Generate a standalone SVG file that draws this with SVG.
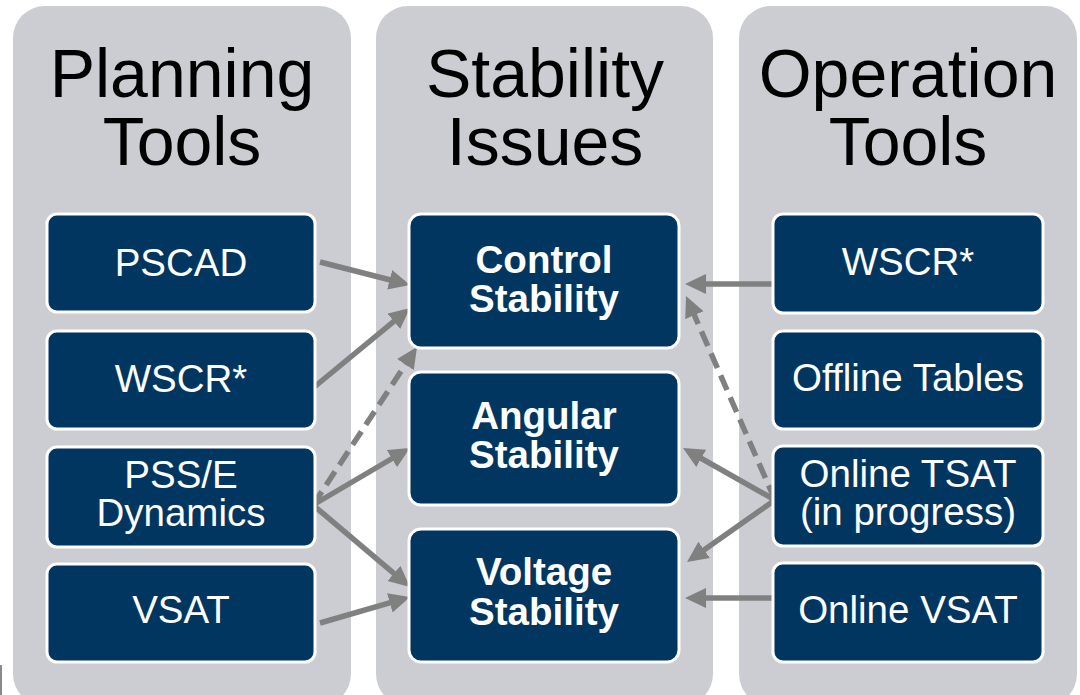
<svg xmlns="http://www.w3.org/2000/svg" width="1080" height="695" viewBox="0 0 1080 695">
<style>
.panel{fill:#CBCDD2}
.box{fill:#003660;stroke:#FFFFFF;stroke-width:3}
.title{font-family:"Liberation Sans",Arial,sans-serif;font-size:68px;fill:#000000;text-anchor:middle}
.t{font-family:"Liberation Sans",Arial,sans-serif;font-size:38.5px;fill:#FFFFFF;text-anchor:middle}
.tb{font-family:"Liberation Sans",Arial,sans-serif;font-size:38.5px;font-weight:bold;fill:#FFFFFF;text-anchor:middle}
.c{stroke:#808080;stroke-width:5.5;fill:none;marker-end:url(#ah)}
.d{stroke-dasharray:16 8}
</style>
<defs>
<marker id="ah" markerUnits="userSpaceOnUse" markerWidth="24" markerHeight="22" refX="15" refY="10" orient="auto">
<path d="M0,0 L21,10 L0,20 z" fill="#808080"/>
</marker>
</defs>
<rect x="0" y="0" width="1080" height="695" fill="#FFFFFF"/>
<rect x="0" y="665" width="2" height="30" fill="#8A8A8A"/>
<g id="panel-planning">
<rect class="panel" x="13" y="6" width="338" height="700" rx="32"/>
<text class="title" x="182" y="97">Planning</text>
<text class="title" x="182" y="165">Tools</text>
</g>
<g id="panel-stability">
<rect class="panel" x="376" y="6" width="337" height="700" rx="32"/>
<text class="title" x="545" y="97">Stability</text>
<text class="title" x="545" y="165">Issues</text>
</g>
<g id="panel-operation">
<rect class="panel" x="739" y="6" width="338" height="700" rx="32"/>
<text class="title" x="908" y="97">Operation</text>
<text class="title" x="908" y="165">Tools</text>
</g>
<g id="connectors">
<line class="c" x1="320" y1="262" x2="404.2" y2="283.5"/>
<line class="c" x1="313" y1="388" x2="405.4" y2="311.8"/>
<line class="c d" x1="313" y1="505" x2="413.7" y2="352"/>
<line class="c" x1="313" y1="505" x2="404.8" y2="451"/>
<line class="c" x1="313" y1="505" x2="405.4" y2="583.1"/>
<line class="c" x1="320" y1="623" x2="404.2" y2="598.7"/>
<line class="c" x1="777" y1="284" x2="691" y2="284"/>
<line class="c d" x1="775" y1="500" x2="688.4" y2="301.5"/>
<line class="c" x1="775" y1="500" x2="688.2" y2="451"/>
<line class="c" x1="775" y1="500" x2="691.9" y2="558.5"/>
<line class="c" x1="774" y1="598" x2="691" y2="598"/>
</g>
<g id="pscad">
<rect class="box" x="47" y="214" width="268" height="98" rx="10"/>
<text class="t" x="181" y="276">PSCAD</text>
</g>
<g id="wscr-planning">
<rect class="box" x="47" y="331" width="268" height="98" rx="10"/>
<text class="t" x="181" y="392">WSCR*</text>
</g>
<g id="psse">
<rect class="box" x="47" y="447" width="268" height="100" rx="10"/>
<text class="t" x="181" y="488">PSS/E</text>
<text class="t" x="181" y="526">Dynamics</text>
</g>
<g id="vsat">
<rect class="box" x="47" y="564" width="268" height="98" rx="10"/>
<text class="t" x="181" y="623">VSAT</text>
</g>
<g id="control">
<rect class="box" x="409" y="214" width="270" height="134" rx="12"/>
<text class="tb" x="544" y="273">Control</text>
<text class="tb" x="544" y="312">Stability</text>
</g>
<g id="angular">
<rect class="box" x="409" y="372" width="270" height="133" rx="12"/>
<text class="tb" x="544" y="429">Angular</text>
<text class="tb" x="544" y="468">Stability</text>
</g>
<g id="voltage">
<rect class="box" x="409" y="529" width="270" height="133" rx="12"/>
<text class="tb" x="544" y="585">Voltage</text>
<text class="tb" x="544" y="625">Stability</text>
</g>
<g id="wscr-operation">
<rect class="box" x="773" y="214" width="270" height="99" rx="10"/>
<text class="t" x="908" y="275">WSCR*</text>
</g>
<g id="offline">
<rect class="box" x="773" y="331" width="270" height="98" rx="10"/>
<text class="t" x="908" y="391">Offline Tables</text>
</g>
<g id="tsat">
<rect class="box" x="773" y="446" width="270" height="100" rx="10"/>
<text class="t" x="908" y="487">Online TSAT</text>
<text class="t" x="908" y="525">(in progress)</text>
</g>
<g id="online-vsat">
<rect class="box" x="773" y="563" width="270" height="99" rx="10"/>
<text class="t" x="908" y="623">Online VSAT</text>
</g>
</svg>
